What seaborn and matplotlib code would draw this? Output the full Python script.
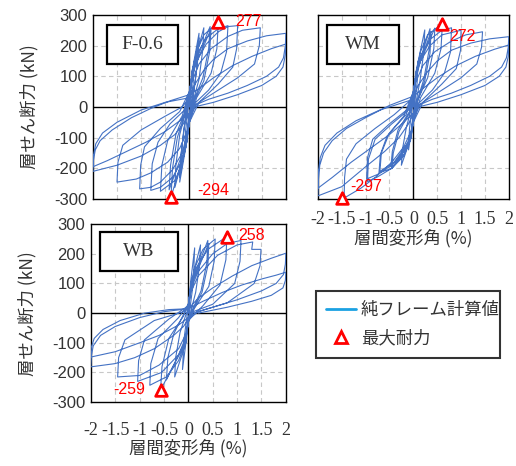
import numpy as np
import pandas as pd
import seaborn as sns
import matplotlib.pyplot as plt
from matplotlib.lines import Line2D
from matplotlib.patches import Rectangle

sns.set_theme(style='white')
plt.rcParams['font.family'] = ['Liberation Sans', 'Noto Sans CJK JP', 'DejaVu Sans']

# hysteresis paths: (drift %, shear kN)
f06_loop = [
    (0, 0), (0.05, 90), (0.1, 150), (0.08, 80), (0.02, 0), (-0.05, -90), (-0.1, -150), (-0.08, -80), (-0.02, 0),
    (0.05, 110), (0.2, 240), (0.18, 170), (0.12, 80), (0.05, 10), (-0.01, -30), (-0.05, -110), (-0.2, -245), (-0.18, -170), (-0.12, -80), (-0.05, -10), (0.01, 30),
    (0.05, 100), (0.2, 225), (0.17, 150), (0.1, 60), (0.04, 0), (-0.01, -30), (-0.05, -100), (-0.2, -230), (-0.17, -150), (-0.1, -60), (-0.04, 0), (0.01, 35),
    (0.06, 120), (0.3, 258), (0.28, 190), (0.2, 90), (0.08, 20), (0, -40), (-0.06, -120), (-0.3, -262), (-0.28, -190), (-0.2, -90), (-0.08, -20), (0, 40),
    (0.07, 125), (0.43, 262), (0.4, 190), (0.28, 95), (0.1, 25), (0, -45), (-0.07, -130), (-0.38, -294), (-0.35, -200), (-0.25, -100), (-0.1, -25), (0, 45),
    (0.07, 115), (0.45, 255), (0.42, 180), (0.3, 85), (0.1, 20), (0, -50), (-0.07, -120), (-0.42, -270), (-0.39, -190), (-0.28, -90), (-0.1, -20), (0, 40),
    (0.05, 100), (0.15, 180), (0.3, 235), (0.6, 277), (0.57, 190), (0.45, 110), (0.15, 30), (0, -50),
    (-0.05, -110), (-0.15, -185), (-0.3, -240), (-0.6, -275), (-0.57, -190), (-0.45, -110), (-0.15, -30), (0, 50),
    (0.05, 100), (0.15, 170), (0.35, 225), (0.6, 255), (0.8, 265), (0.77, 180), (0.65, 110), (0.4, 55), (0.1, 10), (0, -50),
    (-0.05, -100), (-0.15, -175), (-0.35, -230), (-0.6, -262), (-0.8, -272), (-0.77, -185), (-0.65, -115), (-0.4, -55), (-0.1, -10), (0, 50),
    (0.05, 90), (0.15, 150), (0.35, 205), (0.6, 245), (0.8, 262), (1.0, 265), (0.98, 190), (0.9, 130), (0.6, 75), (0.2, 15), (0, -50),
    (-0.05, -90), (-0.15, -150), (-0.35, -205), (-0.6, -245), (-0.8, -262), (-1.03, -267), (-1.01, -190), (-0.93, -130), (-0.6, -70), (-0.2, -15), (0, 50),
    (0.05, 80), (0.2, 140), (0.45, 190), (0.8, 230), (1.1, 250), (1.47, 258), (1.45, 200), (1.35, 140), (1.0, 95), (0.5, 45), (0.15, 10), (0, -40),
    (-0.05, -80), (-0.2, -135), (-0.45, -180), (-0.8, -215), (-1.1, -235), (-1.5, -245), (-1.48, -180), (-1.38, -125), (-1.0, -75), (-0.5, -30), (-0.15, 0), (0, 30),
    (0.1, 70), (0.3, 120), (0.5, 155), (0.8, 190), (1.2, 215), (1.6, 232), (2.0, 240),
    (1.99, 200), (1.95, 160), (1.85, 130), (1.6, 100), (1.2, 70), (0.8, 45), (0.4, 25), (0.1, 5), (0, -20),
    (-0.1, -50), (-0.3, -90), (-0.6, -125), (-1.0, -160), (-1.5, -190), (-2.0, -210),
    (-1.99, -175), (-1.95, -140), (-1.85, -110), (-1.6, -75), (-1.2, -35), (-0.8, -5), (-0.4, 20), (0, 40),
    (0.2, 60), (0.5, 95), (0.9, 135), (1.3, 165), (1.7, 190), (2.0, 205),
    (1.99, 170), (1.94, 130), (1.8, 100), (1.5, 70), (1.0, 40), (0.5, 15), (0.1, 0), (0, -20),
    (-0.2, -45), (-0.5, -80), (-0.9, -115), (-1.3, -145), (-1.7, -175), (-2.0, -195),
    (-1.99, -160), (-1.94, -120), (-1.8, -85), (-1.5, -50), (-1.0, -10), (-0.5, 15), (0, 30),
]

wm_loop = [
    (0, 0), (0.05, 90), (0.1, 150), (0.08, 80), (0.02, 0), (-0.05, -90), (-0.1, -140), (-0.08, -70), (-0.02, 0),
    (0.05, 110), (0.24, 251), (0.22, 180), (0.14, 85), (0.05, 10), (-0.01, -30), (-0.05, -100), (-0.25, -190), (-0.23, -140), (-0.15, -70), (-0.05, -10), (0.01, 30),
    (0.06, 115), (0.35, 255), (0.33, 185), (0.22, 90), (0.08, 20), (0, -40), (-0.06, -110), (-0.45, -200), (-0.42, -150), (-0.3, -80), (-0.08, -20), (0, 40),
    (0.06, 110), (0.37, 245), (0.35, 175), (0.24, 85), (0.08, 15), (0, -40), (-0.06, -105), (-0.47, -195), (-0.44, -145), (-0.32, -75), (-0.08, -15), (0, 40),
    (0.07, 120), (0.45, 257), (0.43, 190), (0.3, 95), (0.1, 25), (0, -45), (-0.07, -110), (-0.3, -170), (-0.7, -210), (-0.67, -150), (-0.5, -85), (-0.15, -25), (0, 45),
    (0.05, 100), (0.15, 180), (0.3, 235), (0.61, 272), (0.58, 190), (0.45, 110), (0.15, 30), (0, -50),
    (-0.05, -100), (-0.2, -160), (-0.45, -200), (-0.72, -215), (-0.69, -155), (-0.55, -95), (-0.2, -30), (0, 50),
    (0.05, 100), (0.15, 165), (0.35, 220), (0.6, 250), (0.8, 258), (0.78, 180), (0.65, 110), (0.4, 55), (0.1, 10), (0, -50),
    (-0.05, -100), (-0.2, -155), (-0.45, -200), (-0.75, -228), (-0.96, -243), (-0.94, -170), (-0.8, -105), (-0.45, -55), (-0.1, -10), (0, 50),
    (0.05, 90), (0.15, 150), (0.35, 200), (0.6, 235), (1.0, 250), (0.99, 185), (0.9, 125), (0.6, 75), (0.2, 15), (0, -50),
    (-0.05, -90), (-0.2, -145), (-0.45, -190), (-0.75, -220), (-0.98, -235), (-0.96, -165), (-0.85, -105), (-0.5, -55), (-0.1, -5), (0, 50),
    (0.05, 80), (0.2, 135), (0.45, 180), (0.8, 215), (1.1, 235), (1.45, 245), (1.43, 195), (1.33, 140), (1.0, 95), (0.5, 45), (0.15, 10), (0, -40),
    (-0.05, -80), (-0.2, -130), (-0.45, -180), (-0.8, -230), (-1.1, -265), (-1.45, -297), (-1.44, -230), (-1.4, -170), (-1.2, -120), (-0.8, -70), (-0.4, -25), (0, 30),
    (0.1, 70), (0.3, 115), (0.5, 150), (0.8, 185), (1.2, 208), (1.6, 222), (2.0, 229),
    (1.99, 195), (1.95, 160), (1.85, 130), (1.6, 100), (1.2, 70), (0.8, 45), (0.4, 25), (0.1, 5), (0, -20),
    (-0.1, -55), (-0.3, -100), (-0.6, -145), (-1.0, -195), (-1.5, -260), (-2.0, -290),
    (-1.99, -240), (-1.96, -190), (-1.88, -150), (-1.7, -110), (-1.4, -70), (-1.0, -35), (-0.5, 5), (0, 35),
    (0.2, 60), (0.5, 95), (0.9, 135), (1.3, 165), (1.7, 188), (2.0, 202),
    (1.99, 165), (1.94, 130), (1.8, 100), (1.5, 70), (1.0, 40), (0.5, 15), (0.1, 0), (0, -20),
    (-0.2, -50), (-0.5, -90), (-0.9, -135), (-1.3, -180), (-1.7, -230), (-2.0, -265),
    (-1.99, -215), (-1.95, -165), (-1.85, -125), (-1.6, -85), (-1.2, -45), (-0.7, -10), (0, 25),
]

wb_loop = [
    (0, 0), (0.05, 110), (0.13, 220), (0.1, 100), (0.02, 0), (-0.05, -100), (-0.12, -190), (-0.09, -90), (-0.02, 0),
    (0.05, 100), (0.25, 230), (0.23, 160), (0.15, 70), (0.05, 5), (-0.01, -20), (-0.05, -100), (-0.28, -215), (-0.26, -150), (-0.17, -65), (-0.05, -5), (0.01, 20),
    (0.06, 100), (0.4, 245), (0.38, 170), (0.26, 75), (0.08, 10), (0, -30), (-0.06, -100), (-0.57, -259), (-0.54, -180), (-0.4, -85), (-0.1, -10), (0, 30),
    (0.06, 95), (0.42, 235), (0.4, 160), (0.28, 70), (0.08, 5), (0, -30), (-0.06, -95), (-0.45, -225), (-0.42, -150), (-0.3, -70), (-0.1, -5), (0, 25),
    (0.07, 100), (0.15, 160), (0.3, 215), (0.55, 250), (0.53, 175), (0.42, 90), (0.12, 15), (0, -30),
    (-0.07, -100), (-0.2, -160), (-0.45, -215), (-0.79, -243), (-0.77, -170), (-0.62, -85), (-0.2, -15), (0, 30),
    (0.05, 90), (0.15, 150), (0.4, 215), (0.79, 258), (0.77, 180), (0.65, 95), (0.3, 25), (0, -25),
    (-0.05, -80), (-0.2, -140), (-0.55, -200), (-1.04, -230), (-1.02, -160), (-0.9, -90), (-0.4, -20), (0, 25),
    (0.05, 80), (0.2, 140), (0.5, 200), (0.8, 235), (1.08, 245), (1.06, 175), (0.95, 100), (0.5, 30), (0.1, 5), (0, -25),
    (-0.05, -70), (-0.2, -120), (-0.6, -175), (-1.0, -210), (-1.45, -215), (-1.43, -150), (-1.3, -90), (-0.7, -25), (-0.1, 5), (0, 25),
    (0.05, 70), (0.2, 125), (0.6, 195), (1.0, 230), (1.32, 240), (1.3, 215), (1.49, 215), (1.47, 160), (1.35, 100), (0.8, 35), (0.2, 5), (0, -20),
    (-0.1, -45), (-0.3, -75), (-0.7, -120), (-1.1, -150), (-1.5, -170), (-2.0, -181),
    (-1.99, -145), (-1.95, -110), (-1.8, -75), (-1.5, -45), (-1.0, -15), (-0.5, 5), (0, 15),
    (0.2, 50), (0.5, 85), (0.9, 125), (1.3, 160), (1.7, 185), (2.0, 202),
    (1.99, 165), (1.95, 130), (1.8, 100), (1.5, 75), (1.0, 45), (0.5, 20), (0.1, 0), (0, -15),
    (-0.2, -40), (-0.6, -75), (-1.0, -100), (-1.5, -130), (-2.0, -148),
    (-1.99, -115), (-1.93, -85), (-1.75, -55), (-1.4, -25), (-0.9, 0), (-0.4, 12), (0, 15),
    (0.3, 40), (0.7, 70), (1.1, 95), (1.5, 115), (1.8, 128), (2.0, 138),
    (1.99, 110), (1.94, 85), (1.7, 60), (1.3, 40), (0.8, 20), (0.2, 0),
]

# max strength points
f06_peak_x = [0.6, -0.38]
f06_peak_y = [277, -294]
wm_peak_x = [0.61, -1.5]
wm_peak_y = [272, -297]
wb_peak_x = [0.79, -0.57]
wb_peak_y = [258, -259]

x_ticks = [-2, -1.5, -1, -0.5, 0, 0.5, 1, 1.5, 2]
x_ticklabels = ['-2', '-1.5', '-1', '-0.5', '0', '0.5', '1', '1.5', '2']
y_ticks = [-300, -200, -100, 0, 100, 200, 300]
y_ticklabels = ['-300', '-200', '-100', '0', '100', '200', '300']

line_blue = '#4472C4'
txt_col = '#333333'

fig = plt.figure(figsize=(5.16, 4.66), dpi=100)
ax1 = fig.add_axes([0.180, 0.573, 0.374, 0.395])
ax2 = fig.add_axes([0.616, 0.573, 0.370, 0.395])
ax3 = fig.add_axes([0.176, 0.137, 0.378, 0.382])


def draw_panel(ax, loop, px, py, name, box, offs, has):
    df = pd.DataFrame(loop, columns=['drift', 'shear'])
    sns.lineplot(data=df, x='drift', y='shear', sort=False, estimator=None,
                 color=line_blue, lw=0.8, ax=ax, zorder=3)
    ax.set_xlim(-2, 2)
    ax.set_ylim(-300, 300)
    for v in [-1.5, -1, -0.5, 0.5, 1, 1.5]:
        ax.axvline(v, color='#C8C8C8', lw=0.8, ls=(0, (4, 3)), zorder=1)
    for v in [-200, -100, 100, 200]:
        ax.axhline(v, color='#C8C8C8', lw=0.8, ls=(0, (4, 3)), zorder=1)
    ax.axvline(0, color='black', lw=1.0, zorder=2)
    ax.axhline(0, color='black', lw=1.0, zorder=2)
    for s in ax.spines.values():
        s.set_color('black')
        s.set_linewidth(1.0)
    sns.scatterplot(x=px, y=py, marker='^', s=70, color='white', edgecolor='red',
                    linewidth=2, ax=ax, clip_on=False, zorder=6)
    for xv, yv, (dx, dy, ha) in zip(px, py, offs):
        ax.annotate(str(yv), (xv, yv), xytext=(dx, dy), textcoords='offset points',
                    ha=ha, va='center', color='red', fontsize=11.5,
                    family='Liberation Sans', annotation_clip=False, zorder=7)
    ax.add_patch(Rectangle((box[0], box[1]), box[2], box[3], transform=ax.transAxes,
                           fill=True, facecolor='white', edgecolor='black', lw=1.6, zorder=8))
    ax.text(box[0] + box[2] / 2, box[1] + box[3] / 2, name, transform=ax.transAxes,
            ha='center', va='center', fontsize=14, family='Liberation Serif',
            color=txt_col, zorder=9)
    ax.set_xticks(x_ticks)
    ax.set_yticks(y_ticks)
    ax.tick_params(length=0)
    ax.set_xlabel('')
    ax.set_ylabel('')
    if has[0]:
        ax.set_xticklabels(x_ticklabels, fontsize=13, family='Liberation Serif', color=txt_col)
        ax.set_xlabel('層間変形角 (%)', fontsize=12.5, family=['Noto Sans CJK JP'], color=txt_col, labelpad=0)
    else:
        ax.set_xticklabels([])
    if has[1]:
        ax.set_yticklabels(y_ticklabels, fontsize=12, family='Liberation Sans', color=txt_col)
        ax.set_ylabel('層せん断力 (kN)', fontsize=12.5, family=['Noto Sans CJK JP'], color=txt_col, labelpad=11)
    else:
        ax.set_yticklabels([])
    ax.grid(False)


draw_panel(ax1, f06_loop, f06_peak_x, f06_peak_y, 'F-0.6', (0.073, 0.734, 0.367, 0.212),
           [(12, 0, 'left'), (19, 5, 'left')], (False, True))
draw_panel(ax2, wm_loop, wm_peak_x, wm_peak_y, 'WM', (0.047, 0.734, 0.377, 0.212),
           [(5, -9, 'left'), (6, 8, 'left')], (True, False))
draw_panel(ax3, wb_loop, wb_peak_x, wb_peak_y, 'WB', (0.046, 0.736, 0.40, 0.219),
           [(8, 1, 'left'), (-11, 0, 'right')], (True, True))

ax1.tick_params(axis='y', pad=4)
ax3.tick_params(axis='y', pad=4)
ax2.tick_params(axis='x', pad=9)
ax3.tick_params(axis='x', pad=14)

handles = [Line2D([], [], color='#1BA1E2', lw=2),
           Line2D([], [], marker='^', ls='none', mfc='white', mec='red', mew=2, ms=9)]
leg = fig.legend(handles, ['純フレーム計算値', '最大耐力'], loc='upper left',
                 bbox_to_anchor=(0.595, 0.395, 0.391, 0.0), mode='expand',
                 frameon=True, fancybox=False, edgecolor='black', handlelength=1.7,
                 handletextpad=0.3, labelspacing=0.6, borderpad=0.6,
                 prop={'family': ['Noto Sans CJK JP'], 'size': 12.5})
leg.get_frame().set_linewidth(1.5)
for t in leg.get_texts():
    t.set_color(txt_col)

fig.savefig('out.png', dpi=100)
